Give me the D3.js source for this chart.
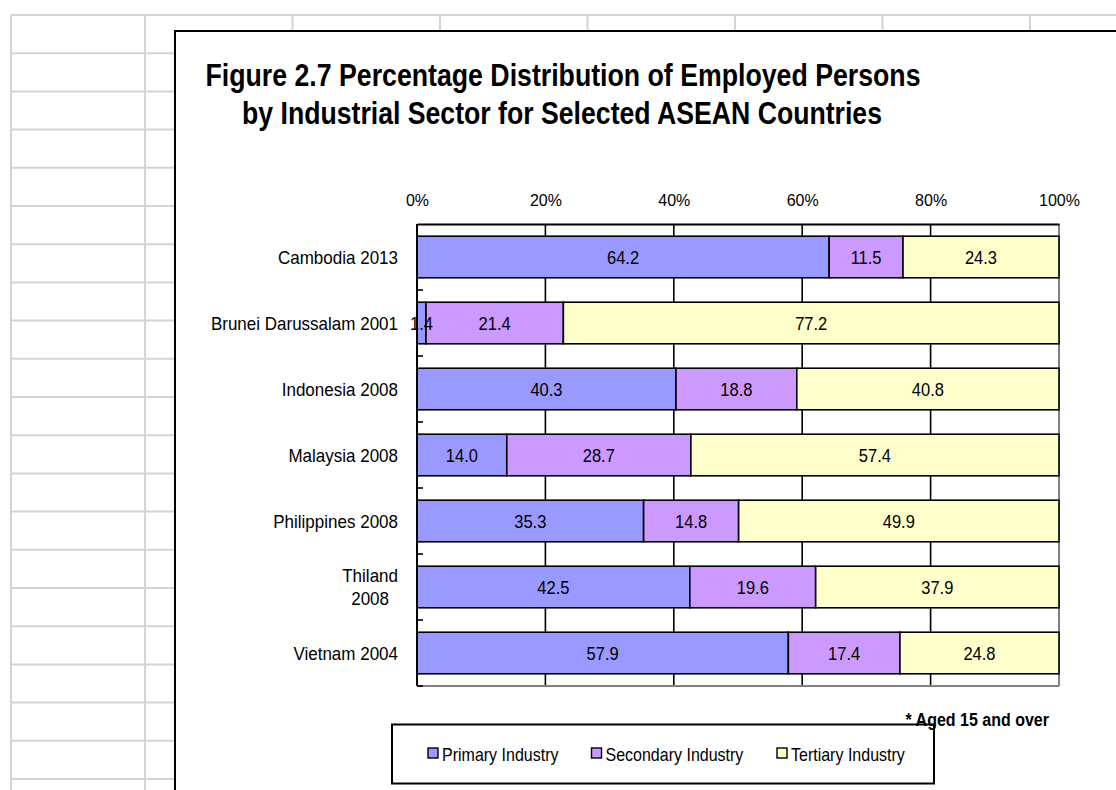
<!DOCTYPE html>
<html><head><meta charset="utf-8">
<script src="https://cdn.jsdelivr.net/npm/d3@7"></script>
<style>
html,body{margin:0;padding:0;background:#fff;}
svg{display:block;}
text{font-family:"Liberation Sans",Arial,sans-serif;fill:#000;}
</style></head>
<body>
<svg id="chart" width="1116" height="790"></svg>
<script>
const categories = ["Cambodia 2013","Brunei Darussalam 2001","Indonesia 2008","Malaysia 2008","Philippines 2008","Thiland\n2008","Vietnam 2004"];
const seriesNames = ["Primary Industry","Secondary Industry","Tertiary Industry"];
const primary   = [64.2, 1.4, 40.3, 14.0, 35.3, 42.5, 57.9];
const secondary = [11.5, 21.4, 18.8, 28.7, 14.8, 19.6, 17.4];
const tertiary  = [24.3, 77.2, 40.8, 57.4, 49.9, 37.9, 24.8];
const xTicks = [0, 0.2, 0.4, 0.6, 0.8, 1.0];
const colors = ["#9999FF","#CC99FF","#FFFFCC"];
const titleLines = ["Figure 2.7 Percentage Distribution of Employed Persons","by Industrial Sector for Selected ASEAN Countries"];
const footnote = "* Aged 15 and over";

const svg = d3.select("#chart");

// make text taller while keeping width of base size
function tall(sel, baseSize, tallSize){
  sel.each(function(){
    const t = d3.select(this);
    t.style("font-size", baseSize+"px");
    const w = this.getComputedTextLength();
    t.style("font-size", tallSize+"px").attr("textLength", w).attr("lengthAdjust","spacingAndGlyphs");
  });
}

// spreadsheet grid background
const grid = svg.append("g").attr("stroke","#d4d4d4").attr("stroke-width",2);
const rowYs = d3.range(0,21).map(k => 15 + 38.2*k);
grid.selectAll("line.h").data(rowYs).join("line")
  .attr("x1",11).attr("x2",1116).attr("y1",d=>d).attr("y2",d=>d);
const colXs = [11,145,292.5,440,587.5,735,882.5,1030];
grid.selectAll("line.v").data(colXs).join("line")
  .attr("x1",d=>d).attr("x2",d=>d).attr("y1",15).attr("y2",790);

// chart frame
svg.append("rect").attr("x",175).attr("y",31).attr("width",1000).attr("height",800)
  .attr("fill","#fff").attr("stroke","#000").attr("stroke-width",2);

// title
const tl = [[205.5,86,715],[242,124,640]];
titleLines.forEach((t,i)=>{
  svg.append("text").attr("x",tl[i][0]).attr("y",tl[i][1])
    .attr("textLength",tl[i][2]).attr("lengthAdjust","spacingAndGlyphs")
    .style("font-family",'"Liberation Sans Narrow","Arial Narrow","Liberation Sans",sans-serif')
    .style("font-weight","bold").style("font-size","31px").text(t);
});

// scales
const x0 = 417, x1 = 1059, yTop = 224, yBot = 686;
const x = d3.scaleLinear().domain([0,1]).range([x0,x1]);
const y = d3.scaleBand().domain(categories).range([yTop,yBot]).paddingInner(0.37).paddingOuter(0.185);

// data rows normalized
const rows = categories.map((c,i)=>{
  const vals=[primary[i],secondary[i],tertiary[i]];
  const tot=d3.sum(vals);
  let acc=0;
  return vals.map((v,j)=>{const s={cat:c,j,v,x0:acc/tot,x1:(acc+v)/tot};acc+=v;return s;});
});

// gridlines (behind bars)
svg.append("g").selectAll("line").data(xTicks.slice(1,-1)).join("line")
  .attr("x1",d=>x(d)).attr("x2",d=>x(d)).attr("y1",yTop).attr("y2",yBot)
  .attr("stroke","#000").attr("stroke-width",1.6);

// plot border right & bottom
svg.append("line").attr("x1",x1).attr("x2",x1).attr("y1",yTop).attr("y2",yBot).attr("stroke","#808080").attr("stroke-width",2);
svg.append("line").attr("x1",x0).attr("x2",x1).attr("y1",yBot).attr("y2",yBot).attr("stroke","#808080").attr("stroke-width",2);

// bars
const segs = rows.flat();
svg.append("g").selectAll("rect").data(segs).join("rect")
  .attr("x",d=>x(d.x0)).attr("width",d=>x(d.x1)-x(d.x0))
  .attr("y",d=>y(d.cat)).attr("height",y.bandwidth())
  .attr("fill",d=>colors[d.j]).attr("stroke","#000").attr("stroke-width",1.6);

// data labels
svg.append("g").selectAll("text").data(segs).join("text")
  .attr("x",d=>x((d.x0+d.x1)/2)).attr("y",d=>y(d.cat)+y.bandwidth()/2)
  .attr("dy","0.36em").attr("text-anchor","middle")
  .text(d=>d3.format(".1f")(d.v))
  .call(tall, 16.5, 18.5);

// top axis
const xAxis = d3.axisTop(x).tickValues(xTicks).tickFormat(d3.format(".0%")).tickSize(0).tickPadding(0);
const gx = svg.append("g").attr("transform",`translate(0,${yTop})`).call(xAxis);
gx.select(".domain").attr("stroke","#000").attr("stroke-width",2);
gx.selectAll("text").attr("y",-18).style("font-family",'"Liberation Sans",Arial,sans-serif').call(tall,16,16.5);

// left axis
const boundaries = d3.range(0,categories.length+1).map(i=>yTop+i*(yBot-yTop)/categories.length);
svg.append("line").attr("x1",x0).attr("x2",x0).attr("y1",yTop).attr("y2",yBot).attr("stroke","#000").attr("stroke-width",2);
svg.append("g").selectAll("line").data(boundaries.slice(1)).join("line")
  .attr("x1",x0).attr("x2",x0+6).attr("y1",d=>d).attr("y2",d=>d).attr("stroke","#000").attr("stroke-width",1.6);

// category labels
const catG = svg.append("g");
categories.forEach(c=>{
  const cy = y(c)+y.bandwidth()/2;
  const lines = c.split("\n");
  if(lines.length===1){
    catG.append("text").attr("x",398).attr("y",cy).attr("dy","0.36em").attr("text-anchor","end")
      .text(c).call(tall,17,18.5);
  } else {
    const tmp = lines.map(l=>catG.append("text").text(l).call(tall,17,18.5));
    const w = d3.max(tmp,t=>+t.attr("textLength"));
    const cx = 398 - w/2;
    tmp.forEach((t,k)=>{
      t.attr("x",cx).attr("text-anchor","middle")
       .attr("y",cy + (k-(lines.length-1)/2)*23).attr("dy","0.36em");
    });
  }
});

// legend
svg.append("rect").attr("x",392).attr("y",724.5).attr("width",542).attr("height",59)
  .attr("fill","#fff").attr("stroke","#000").attr("stroke-width",2);
const legX = [428, 591.5, 777];
const lg = svg.append("g").selectAll("g").data(seriesNames).join("g")
  .attr("transform",(d,i)=>`translate(${legX[i]},748)`);
lg.append("rect").attr("width",10).attr("height",10).attr("fill",(d,i)=>colors[i]).attr("stroke","#000").attr("stroke-width",1.4);
lg.append("text").attr("x",14).attr("y",12.8).text(d=>d).call(tall,16,18.5);

// footnote
svg.append("text").attr("x",1049).attr("y",725.5).attr("text-anchor","end")
  .style("font-weight","bold").text(footnote).call(tall,16,17.5);
</script>
</body></html>
